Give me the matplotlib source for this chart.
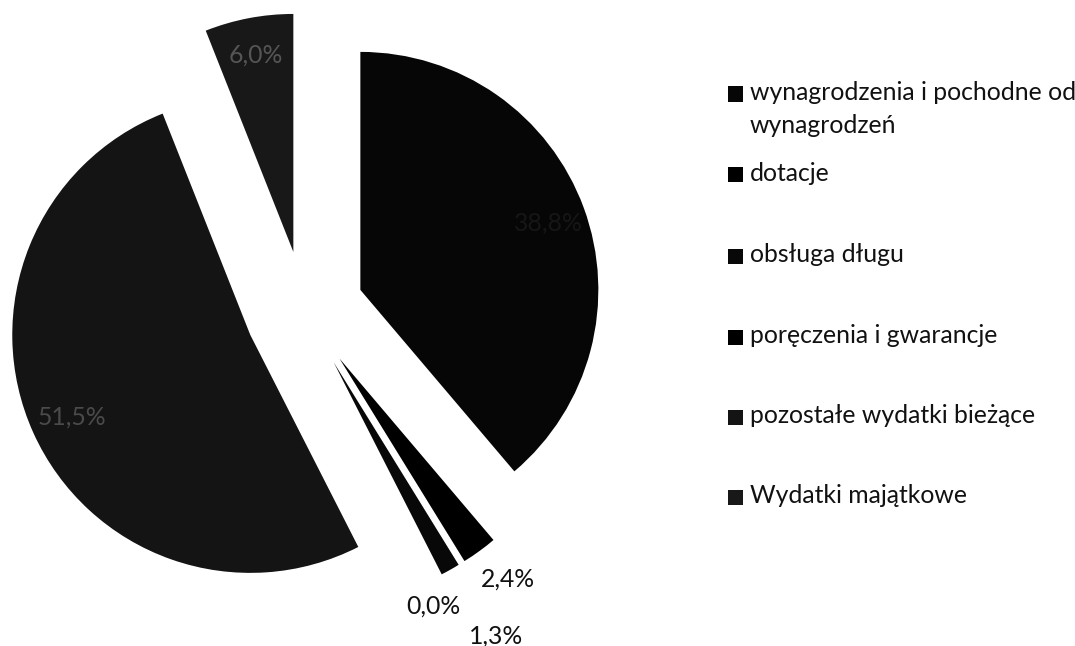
import matplotlib
matplotlib.use("Agg")
import matplotlib.pyplot as plt
from matplotlib.patches import Rectangle
import numpy as np

# ---- data ----
categories = ["wynagrodzenia i pochodne od\nwynagrodzeń", "dotacje", "obsługa długu",
              "poręczenia i gwarancje", "pozostałe wydatki bieżące", "Wydatki majątkowe"]
values = [38.8, 2.4, 1.3, 0.0, 51.5, 6.0]
value_labels = ["38,8%", "2,4%", "1,3%", "0,0%", "51,5%", "6,0%"]

# ---- style ----
slice_colors = ["#060606", "#000000", "#080808", "#000000", "#141414", "#181818"]
label_colors = ["#161616", "#111111", "#111111", "#111111", "#4a4a4a", "#555555"]
label_dist = [0.84, 1.16, 1.33, 1.10, 0.82, 0.85]
label_rot = [0.0, -1.5, -1.5, 4.0, 0.0, 0.0]   # extra clockwise shift of labels (deg)
FONT = ["Lato", "DejaVu Sans"]
FS = 17.8

W, H = 1075, 646
fig = plt.figure(figsize=(W / 100, H / 100), dpi=100)
fig.patch.set_facecolor("white")

R = 238.0
cx, cy = 304.5, 310.4  # pixel position of pie centre (from top-left)
ax = fig.add_axes([0, 0, 1, 1])

wedges, _ = ax.pie(values, radius=1.0, center=(0, 0), startangle=90, counterclock=False,
                   explode=[0.25] * len(values), colors=slice_colors,
                   wedgeprops=dict(linewidth=0), normalize=True)
ax.set_xlim(-cx / R, (W - cx) / R)
ax.set_ylim(-(H - cy) / R, cy / R)
ax.set_aspect("equal")
ax.axis("off")

for w, lab, d, rot, col in zip(wedges, value_labels, label_dist, label_rot, label_colors):
    tm = np.deg2rad((w.theta1 + w.theta2) / 2 - rot)
    x0, y0 = w.center
    ax.text(x0 + d * np.cos(tm), y0 + d * np.sin(tm), lab, ha="center",
            va="center_baseline", fontsize=FS, color=col, family=FONT)

# ---- legend (manual, Excel-like) ----
marker_y = [94, 175, 256, 337, 417, 497]
line_gap = 33
xh = 6.3  # half x-height in px
for cat, col, y in zip(categories, slice_colors, marker_y):
    for i, line in enumerate(cat.split("\n")):
        fig.text(750 / W, 1 - (y + xh + i * line_gap) / H, line, ha="left", va="baseline",
                 fontsize=FS, family=FONT, color="#111111")
    fig.patches.append(Rectangle((728 / W, 1 - (y + 7.5) / H), 15 / W, 15 / H,
                                 transform=fig.transFigure, facecolor=col,
                                 edgecolor="none"))

fig.savefig("out.png", dpi=100, facecolor="white")
